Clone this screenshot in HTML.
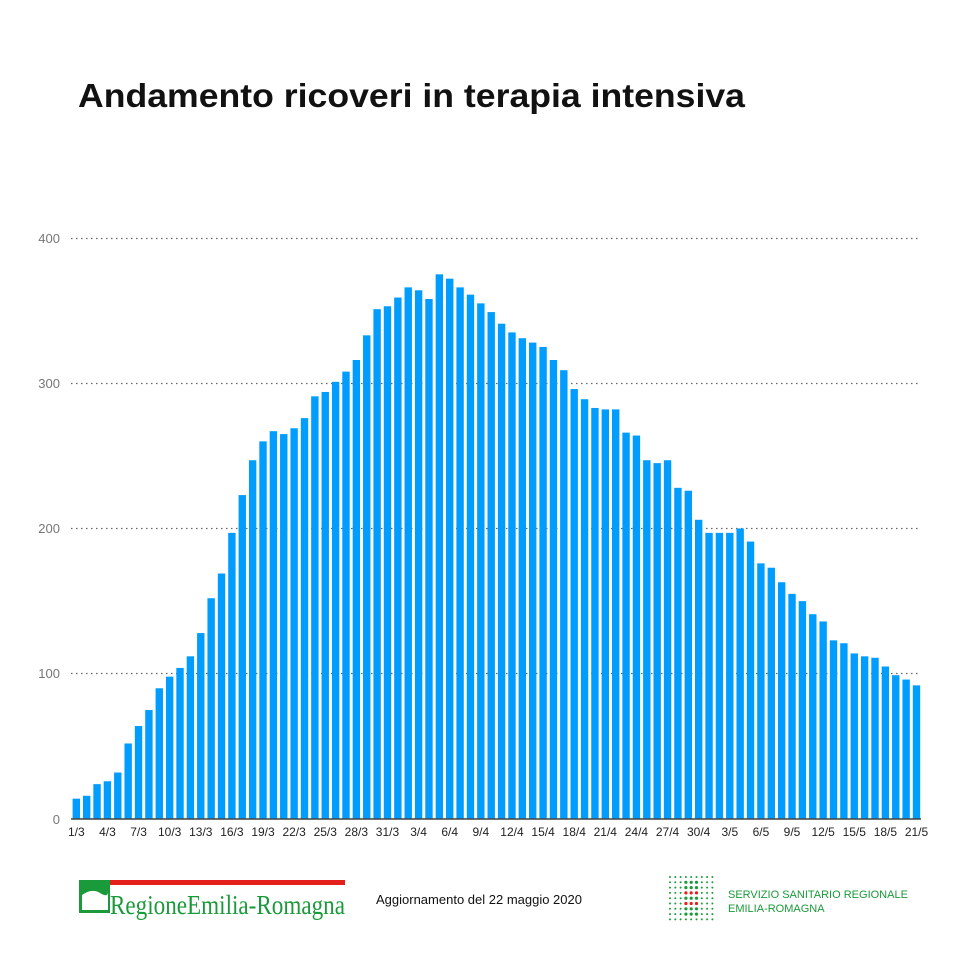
<!DOCTYPE html>
<html><head><meta charset="utf-8"><style>
body{margin:0;background:#fff;width:960px;height:960px;overflow:hidden;font-family:"Liberation Sans",sans-serif}
</style></head><body>
<svg id="s" width="960" height="960" xmlns="http://www.w3.org/2000/svg" font-family="Liberation Sans, sans-serif">
<rect width="960" height="960" fill="#fff"/>
<text x="78" y="107" font-size="33" font-weight="bold" fill="#111" textLength="667" lengthAdjust="spacingAndGlyphs">Andamento ricoveri in terapia intensiva</text>
<g id="grid" stroke="#666" stroke-width="1.3" stroke-dasharray="1.5,3.5">
<line x1="71" y1="238.5" x2="921" y2="238.5"/>
<line x1="71" y1="383.5" x2="921" y2="383.5"/>
<line x1="71" y1="528.5" x2="921" y2="528.5"/>
<line x1="71" y1="673.5" x2="921" y2="673.5"/>
</g>
<g font-size="13" fill="#777" text-anchor="end">
<text x="60" y="243">400</text><text x="60" y="388">300</text><text x="60" y="533">200</text><text x="60" y="678">100</text><text x="60" y="824">0</text>
</g>
<g id="bars" fill="#009dff"></g>
<line x1="71" y1="819" x2="921" y2="819" stroke="#444" stroke-width="1.5"/>
<g id="xl" font-size="12" fill="#222" text-anchor="middle"></g>
<rect x="80" y="880" width="265" height="5" fill="#e3201b"/>
<rect x="79" y="880" width="31" height="33" fill="#1a9a3a"/>
<path d="M82 895 Q92 888 100 893 T108 892 L108 910 L82 910Z" fill="#fff"/>
<text x="110" y="914" font-family="Liberation Serif, serif" font-size="27" fill="#1a9a3a" textLength="235" lengthAdjust="spacingAndGlyphs">RegioneEmilia-Romagna</text>
<text x="376" y="904" font-size="13" fill="#111">Aggiornamento del 22 maggio 2020</text>
<g id="dots"></g>
<text x="728" y="898" font-size="11" fill="#1a9a3a">SERVIZIO SANITARIO REGIONALE</text>
<text x="728" y="912" font-size="11" fill="#1a9a3a">EMILIA-ROMAGNA</text>
</svg>
<script>
var v=[14,16,24,26,32,52,64,75,90,98,104,112,128,152,169,197,223,247,260,267,265,269,276,291,294,301,308,316,333,351,353,359,366,364,358,375,372,366,361,355,349,341,335,331,328,325,316,309,296,289,283,282,282,266,264,247,245,247,228,226,206,197,197,197,200,191,176,173,163,155,150,141,136,123,121,114,112,111,105,99,96,92];
var labels=[];for(var d=1;d<=31;d++)labels.push(d+"/3");for(d=1;d<=30;d++)labels.push(d+"/4");for(d=1;d<=21;d++)labels.push(d+"/5");
var ns="http://www.w3.org/2000/svg",b=document.getElementById("bars"),xl=document.getElementById("xl");
var sp=(916.5-76.3)/81;
for(var i=0;i<v.length;i++){var cx=76.3+i*sp,h=v[i]*1.4525;
var r=document.createElementNS(ns,"rect");r.setAttribute("x",cx-3.7);r.setAttribute("width",7.4);r.setAttribute("y",819-h);r.setAttribute("height",h);b.appendChild(r);
if(i%3==0){var t=document.createElementNS(ns,"text");t.setAttribute("x",cx);t.setAttribute("y",836);t.textContent=labels[i];xl.appendChild(t);}}
var g=document.getElementById("dots");
for(var rr=0;rr<9;rr++)for(var c=0;c<9;c++){var e=document.createElementNS(ns,"circle");
e.setAttribute("cx",670+c*5.3);e.setAttribute("cy",877+rr*5.3);
var big=(c>=3&&c<=5)&&(rr>=1&&rr<=7);e.setAttribute("r",big?1.6:1);
var red=(rr==3||rr==5)&&c>=3&&c<=5;
e.setAttribute("fill",red?"#e3201b":"#1a9a3a");g.appendChild(e);}
</script>
</body></html>
